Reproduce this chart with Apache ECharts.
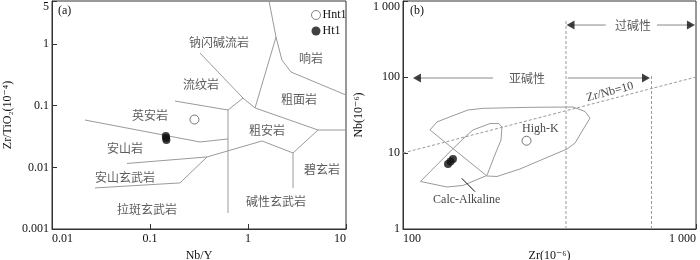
<!DOCTYPE html>
<html>
<head>
<meta charset="utf-8">
<script src="https://cdn.jsdelivr.net/npm/echarts@6/dist/echarts.min.js"></script>
<style>html,body{margin:0;padding:0;background:#fff}#c{width:700px;height:260px}</style>
</head>
<body>
<div id="c"></div>
<script>
// ---------- Panel (a): Zr/TiO2 vs Nb/Y ----------
const aXTicks = ['0.01', '0.1', '1', '10'];
const aYTicks = ['0.001', '0.01', '0.1', '1', '5'];
const aBoundaries = [
  [[1.64, 5], [1.93, 1.3], [1.18, 0.092]],
  [[1.93, 1.3], [2.22, 0.551], [2.75, 0.352], [10, 0.149]],
  [[0.324, 0.715], [0.889, 0.133], [1.18, 0.092]],
  [[0.18, 0.119], [0.625, 0.0852], [0.889, 0.133]],
  [[0.625, 0.0852], [0.625, 0.00182]],
  [[1.18, 0.092], [5.18, 0.0404], [10, 0.0404]],
  [[5.18, 0.0404], [2.88, 0.0171], [2.88, 0.00464]],
  [[2.88, 0.0171], [1.39, 0.0268], [0.382, 0.01475], [0.0582, 0.01157]],
  [[0.382, 0.01475], [0.202, 0.00559], [0.0275, 0.00464]],
  [[0.0217, 0.0586], [0.324, 0.0258], [0.625, 0.0289]]
];
const aFieldLabels = [
  [0.506, 1.08, '钠闪碱流岩'],
  [4.40, 0.593, '响岩'],
  [0.331, 0.221, '流纹岩'],
  [3.31, 0.128, '粗面岩'],
  [0.100, 0.0707, '英安岩'],
  [1.56, 0.0404, '粗安岩'],
  [0.0556, 0.0206, '安山岩'],
  [5.69, 0.00942, '碧玄岩'],
  [0.0556, 0.00699, '安山玄武岩'],
  [1.93, 0.00285, '碱性玄武岩'],
  [0.0931, 0.00204, '拉斑玄武岩']
];
const aHnt1 = [[0.284, 0.0597]];
const aHt1 = [[0.145, 0.0323], [0.146, 0.0300], [0.147, 0.0278]];

// ---------- Panel (b): Nb vs Zr ----------
const bXTicks = ['100', '1 000'];
const bYTicks = ['1', '10', '100', '1 000'];
const bHighK = [[123.6, 20.1], [130.6, 25.6], [141.3, 28.9], [166.7, 36.8], [187.5, 38.7], [271.3, 39.9],
  [380.5, 40.3], [418, 35.2], [434.8, 28.9], [386.3, 13.5], [363, 11.3], [250.7, 6.16], [209.3, 4.91],
  [193.4, 4.98], [123.6, 20.1]];
const bCalcAlk = [[114.7, 4.22], [146.6, 10.95], [162.8, 16.2], [173.3, 20.1], [198.1, 24.4], [212.6, 24.4],
  [217.7, 22.0], [216.0, 14.8], [204.5, 8.86], [193.4, 5.06], [160.2, 3.74], [141.3, 3.57], [114.7, 4.22]];
const bPointer = [[158.6, 4.65], [176.1, 3.10]];
const bZrNb10 = [[100, 10], [1000, 100]];
const bDivider1 = [[360, 1], [360, 562]];
const bDivider2 = [[705, 1], [705, 109.5]];
const bSubArrowL = [[111.6, 97], [203, 97]];
const bSubArrowR = [[365, 97], [675, 97]];
const bPerArrowL = [[373, 483], [492, 483]];
const bPerArrowR = [[736, 483], [961, 483]];
const bHeadsLeft = [[111.6, 97], [373, 483]];
const bHeadsRight = [[675, 97], [961, 483]];
const bTexts = [
  [165.0, 2.41, 'Calc-Alkaline', 0],
  [294.5, 20.7, 'High-K', 0],
  [508.7, 63.5, 'Zr/Nb=10', 15],
];
const bCnTexts = [
  [265, 97, '亚碱性'],
  [609.6, 483, '过碱性']
];
const bHnt1 = [[264, 14.5]];
const bHt1 = [[142.4, 7.16], [145.3, 7.73], [148.1, 8.34]];

const SERIF = '"Liberation Serif", "DejaVu Serif", serif';
const CJK = '"Noto Sans CJK SC", sans-serif';
const GRAY = '#9a9a9a';

function tickFmt(labels, minExp) {
  return function (v) {
    if (Math.abs(v - 5) < 1e-6) return labels[labels.length - 1];
    const i = Math.round(Math.log10(v)) - minExp;
    return labels[i] !== undefined ? labels[i] : '';
  };
}
function logAxis(gi, min, max, labels, minExp, isX, name, nameGap) {
  const ax = {
    type: 'log', logBase: 10, gridIndex: gi, min: min, max: max,
    axisLine: { show: true, lineStyle: { color: '#333', width: 1 } },
    axisTick: { show: true, inside: true, length: 5, lineStyle: { color: '#333' } },
    minorTick: { show: false }, splitLine: { show: false },
    axisLabel: {
      color: '#111', fontSize: 12, fontFamily: SERIF, margin: 4,
      showMinLabel: true, showMaxLabel: true,
      formatter: tickFmt(labels, minExp)
    },
    name: name, nameLocation: 'middle', nameGap: nameGap,
    nameTextStyle: { color: '#111', fontSize: 12, fontFamily: SERIF }
  };
  if (isX) { ax.axisLabel.alignMinLabel = 'left'; ax.axisLabel.alignMaxLabel = 'right'; }
  else { ax.axisLabel.verticalAlignMaxLabel = 'top'; ax.axisLabel.margin = 3; }
  return ax;
}
const lineS = (xi, data, extra) => Object.assign({
  type: 'line', xAxisIndex: xi, yAxisIndex: xi, data: data, symbol: 'none', silent: true,
  lineStyle: { color: GRAY, width: 1 }, z: 2
}, extra || {});
const textS = (xi, data, font, color, rotIdx) => ({
  type: 'scatter', xAxisIndex: xi, yAxisIndex: xi, data: data, symbolSize: 1, silent: true,
  itemStyle: { color: 'rgba(0,0,0,0)' }, z: 5,
  label: {
    show: true, position: 'inside', fontSize: 12, fontFamily: font, color: color,
    formatter: p => p.data[2],
    rotate: rotIdx ? 15 : 0
  }
});

const series = [];
aBoundaries.forEach(b => series.push(lineS(0, b)));
series.push(textS(0, aFieldLabels, CJK, '#333'));
series.push({ type: 'scatter', name: 'Hnt1', xAxisIndex: 0, yAxisIndex: 0, data: aHnt1, symbol: 'circle', symbolSize: 9,
  itemStyle: { color: '#fff', borderColor: '#555', borderWidth: 1 }, z: 6 });
series.push({ type: 'scatter', name: 'Ht1', xAxisIndex: 0, yAxisIndex: 0, data: aHt1, symbol: 'circle', symbolSize: 8,
  itemStyle: { color: '#111' }, z: 6 });

series.push(lineS(1, bHighK));
series.push(lineS(1, bCalcAlk));
series.push(lineS(1, bPointer, { lineStyle: { color: '#111', width: 1 } }));
series.push(lineS(1, bZrNb10, { lineStyle: { color: GRAY, width: 1, type: [3, 2] } }));
series.push(lineS(1, bDivider1, { lineStyle: { color: GRAY, width: 1, type: [3, 2] } }));
series.push(lineS(1, bDivider2, { lineStyle: { color: GRAY, width: 1, type: [3, 2] } }));
[bSubArrowL, bSubArrowR, bPerArrowL, bPerArrowR].forEach(a => series.push(lineS(1, a, { lineStyle: { color: '#888', width: 1 } })));
series.push({ type: 'scatter', xAxisIndex: 1, yAxisIndex: 1, data: bHeadsLeft, symbol: 'triangle', symbolSize: [9, 8],
  symbolRotate: 90, itemStyle: { color: '#111' }, silent: true, z: 6 });
series.push({ type: 'scatter', xAxisIndex: 1, yAxisIndex: 1, data: bHeadsRight, symbol: 'triangle', symbolSize: [9, 8],
  symbolRotate: -90, itemStyle: { color: '#111' }, silent: true, z: 6 });
series.push(textS(1, bTexts.filter(t => !t[3]), SERIF, '#111'));
series.push(textS(1, bTexts.filter(t => t[3]), SERIF, '#111', true));
series.push(textS(1, bCnTexts, CJK, '#333'));
series.push({ type: 'scatter', name: 'Hnt1', xAxisIndex: 1, yAxisIndex: 1, data: bHnt1, symbol: 'circle', symbolSize: 9,
  itemStyle: { color: '#fff', borderColor: '#555', borderWidth: 1 }, z: 6 });
series.push({ type: 'scatter', name: 'Ht1', xAxisIndex: 1, yAxisIndex: 1, data: bHt1, symbol: 'circle', symbolSize: 8,
  itemStyle: { color: '#111' }, z: 6 });

const chart = echarts.init(document.getElementById('c'), null, { renderer: 'canvas' });
chart.setOption({
  animation: false,
  backgroundColor: '#fff',
  grid: [
    { left: 52, top: 1, width: 294, height: 228, show: true, borderColor: '#333', borderWidth: 1, containLabel: false, outerBoundsMode: 'none' },
    { left: 403, top: 1, width: 293, height: 228, show: true, borderColor: '#333', borderWidth: 1, containLabel: false, outerBoundsMode: 'none' }
  ],
  xAxis: [
    logAxis(0, 0.01, 10, aXTicks, -2, true, 'Nb/Y', 19),
    logAxis(1, 100, 1000, bXTicks, 2, true, 'Zr(10⁻⁶)', 19)
  ],
  yAxis: [
    logAxis(0, 0.001, 5, aYTicks, -3, false, 'Zr/TiO₂(10⁻⁴)', 38),
    logAxis(1, 1, 1000, bYTicks, 0, false, 'Nb(10⁻⁶)', 38)
  ],
  legend: {
    data: [
      { name: 'Hnt1', icon: 'circle', itemStyle: { color: '#fff', borderColor: '#666', borderWidth: 1 } },
      { name: 'Ht1', icon: 'circle', itemStyle: { color: '#111', borderWidth: 0 } }
    ],
    orient: 'vertical', left: 306, top: 4,
    itemWidth: 9, itemHeight: 9, itemGap: 4, selectedMode: false,
    textStyle: { fontSize: 12, fontFamily: SERIF, color: '#111', padding: [0, 0, 0, -3] }
  },
  graphic: [
    { type: 'text', left: 58, top: 5, style: { text: '(a)', font: '12px ' + SERIF, fill: '#111' } },
    { type: 'text', left: 410, top: 5, style: { text: '(b)', font: '12px ' + SERIF, fill: '#111' } }
  ],
  series: series
});
</script>
</body>
</html>
